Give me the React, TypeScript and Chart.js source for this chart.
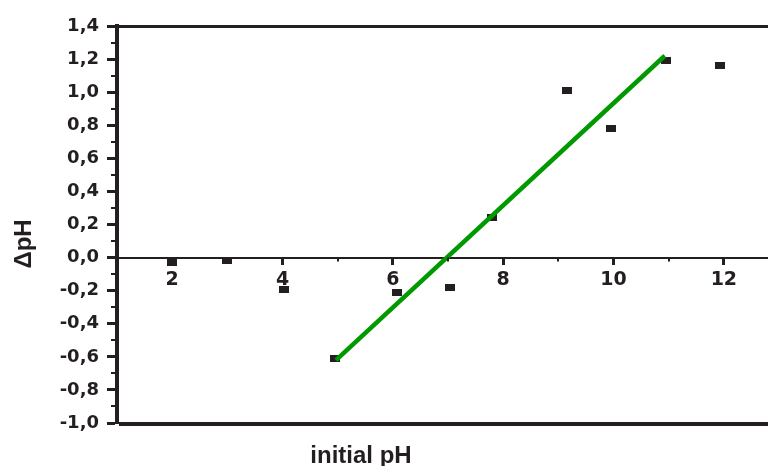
import React, { useEffect, useRef } from "react";
import { Chart, registerables } from "chart.js";

Chart.register(...registerables);

// ---- data ----
const initialPh = [2.0, 3.0, 4.02, 4.96, 6.08, 7.03, 7.79, 9.15, 9.96, 10.95, 11.93];
const deltaPh = [-0.03, -0.02, -0.19, -0.61, -0.21, -0.18, 0.24, 1.01, 0.78, 1.19, 1.16];
const fitX = [4.97, 10.93];
const fitY = [-0.62, 1.22];

const xTickValues = [2, 4, 6, 8, 10, 12];
const xMinorTicks = [3, 5, 7, 9, 11];
const yTickValues = [-1.0, -0.8, -0.6, -0.4, -0.2, 0.0, 0.2, 0.4, 0.6, 0.8, 1.0, 1.2, 1.4];
const yTickLabels = ["-1,0", "-0,8", "-0,6", "-0,4", "-0,2", "0,0", "0,2", "0,4", "0,6", "0,8", "1,0", "1,2", "1,4"];
const yMinorTicks = [-0.9, -0.7, -0.5, -0.3, -0.1, 0.1, 0.3, 0.5, 0.7, 0.9, 1.1, 1.3];

const xTitle = "initial pH";
const yTitle = "ΔpH";

const INK = "#231f20";
const GREEN = "#009a00";

export default function App() {
  const ref = useRef<HTMLCanvasElement | null>(null);

  useEffect(() => {
    if (!ref.current) return;

    const marker = document.createElement("canvas");
    marker.width = 10;
    marker.height = 7;
    const mctx = marker.getContext("2d")!;
    mctx.fillStyle = INK;
    mctx.fillRect(0, 0, 10, 7);

    const decor = {
      id: "decor",
      afterDraw(chart: any) {
        const { ctx, chartArea } = chart;
        const xs = chart.scales.x;
        const ys = chart.scales.y;
        ctx.save();
        ctx.strokeStyle = INK;
        // top & bottom frame
        ctx.lineWidth = 3;
        ctx.beginPath();
        ctx.moveTo(chartArea.left, Math.round(chartArea.top) + 0.5);
        ctx.lineTo(chartArea.right, Math.round(chartArea.top) + 0.5);
        ctx.stroke();
        ctx.lineWidth = 4;
        ctx.beginPath();
        ctx.moveTo(chartArea.left + 2, Math.round(chartArea.bottom) + 1);
        ctx.lineTo(chartArea.right, Math.round(chartArea.bottom) + 1);
        ctx.stroke();
        // minor ticks
        ctx.lineWidth = 2;
        const y0 = ys.getPixelForValue(0);
        xMinorTicks.forEach((v) => {
          const px = Math.round(xs.getPixelForValue(v));
          ctx.beginPath();
          ctx.moveTo(px, y0);
          ctx.lineTo(px, y0 + 4);
          ctx.stroke();
        });
        yMinorTicks.forEach((v) => {
          const py = Math.round(ys.getPixelForValue(v));
          ctx.beginPath();
          ctx.moveTo(chartArea.left - 6, py);
          ctx.lineTo(chartArea.left, py);
          ctx.stroke();
        });
        // axis titles
        ctx.fillStyle = INK;
        ctx.font = "bold 24px 'Liberation Sans', Arial, sans-serif";
        ctx.textAlign = "center";
        ctx.textBaseline = "alphabetic";
        ctx.fillText(xTitle, 361, 463);
        ctx.translate(31, 244);
        ctx.rotate(-Math.PI / 2);
        ctx.fillText(yTitle, 0, 0);
        ctx.restore();
      },
    };

    const chart = new Chart(ref.current, {
      type: "scatter",
      data: {
        datasets: [
          {
            label: "fit",
            data: fitX.map((x, i) => ({ x, y: fitY[i] })),
            showLine: true,
            borderColor: GREEN,
            borderWidth: 4.5,
            pointRadius: 0,
            order: 0,
          },
          {
            label: "data",
            data: initialPh.map((x, i) => ({ x, y: deltaPh[i] })),
            pointStyle: marker as any,
            pointRadius: 5,
            backgroundColor: INK,
            borderColor: INK,
            order: 1,
          },
        ],
      },
      options: {
        responsive: false,
        animation: false,
        layout: { autoPadding: false, padding: { top: 26, bottom: 43, left: 0, right: 0 } },
        plugins: { legend: { display: false }, tooltip: { enabled: false } },
        scales: {
          x: {
            type: "linear",
            position: { y: 0 } as any,
            min: 1,
            max: 12.8,
            afterBuildTicks: (axis: any) => {
              axis.ticks = xTickValues.map((v) => ({ value: v }));
            },
            afterFit: (axis: any) => {
              axis.paddingLeft = 0;
              axis.paddingRight = 0;
            },
            ticks: {
              color: INK,
              padding: 5,
              font: { family: "'DejaVu Sans'", weight: "bold", size: 19 },
              callback: (v: any) => String(v),
            },
            grid: {
              display: true,
              drawOnChartArea: false,
              drawTicks: true,
              tickLength: 6,
              tickWidth: 3,
              tickColor: INK,
            },
            border: { display: true, width: 2, color: INK },
          },
          y: {
            type: "linear",
            position: "left",
            min: -1.0,
            max: 1.4,
            afterBuildTicks: (axis: any) => {
              axis.ticks = yTickValues.map((v) => ({ value: v }));
            },
            afterFit: (axis: any) => {
              axis.width = 117;
              axis.paddingTop = 0;
              axis.paddingBottom = 0;
            },
            ticks: {
              color: INK,
              padding: 8,
              font: { family: "'DejaVu Sans'", weight: "bold", size: 18 },
              callback: (v: any) => {
                const i = yTickValues.findIndex((t) => Math.abs(t - Number(v)) < 1e-6);
                return i >= 0 ? yTickLabels[i] : "";
              },
            },
            grid: {
              display: true,
              drawOnChartArea: false,
              drawTicks: true,
              tickLength: 10,
              tickWidth: 3,
              tickColor: INK,
            },
            border: { display: true, width: 4, color: INK },
          },
        },
      },
      plugins: [decor],
    });

    return () => chart.destroy();
  }, []);

  return (
    <div style={{ position: "absolute", left: 0, top: 0, width: 768, height: 466, background: "#fff" }}>
      <canvas ref={ref} width={768} height={466} style={{ display: "block" }} />
    </div>
  );
}
